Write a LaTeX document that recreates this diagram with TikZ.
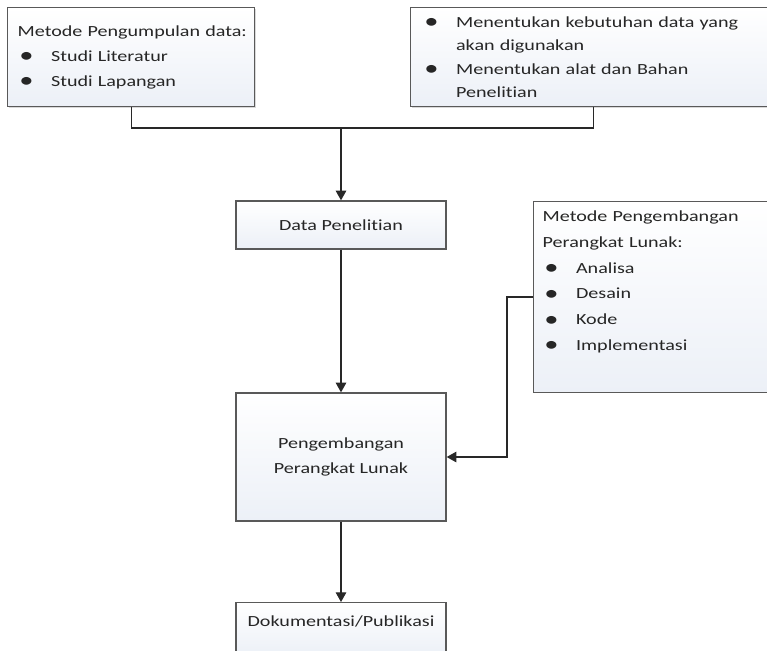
\documentclass[tikz,border=0pt]{standalone}
\usepackage{fontspec}
\setmainfont{Carlito}[FakeStretch=1.3,Ligatures=NoCommon]
\usetikzlibrary{arrows.meta,shadows}
\definecolor{isikotak}{RGB}{236,240,247}
\definecolor{garis}{RGB}{40,40,40}
\newcommand{\butir}{\makebox[19pt][l]{\hspace*{1pt}%
  \raisebox{-0.8pt}{\fontsize{12.5}{12}\selectfont\textbullet}}}

\begin{document}
\begin{tikzpicture}
[x=0.02cm, y=-0.02cm,
  boxdecorate/.style={shape=rectangle,draw=black!65,line width=0.8pt,
    top color=white,bottom color=isikotak,
    drop shadow={shadow xshift=0.6pt,shadow yshift=-0.6pt,opacity=0.3},
    text=black!85,font={\fontsize{8.8}{14.2}\selectfont}},
  listdecorate/.style={boxdecorate,anchor=north west,align=left},
  linedecorate/.style={-,line width=0.7pt,draw=garis},
  arrowdecorate/.style={linedecorate,-{Triangle[width=6pt,length=5.5pt]}}]
\clip (0,0) rectangle (767,650);
%% nodes or boxes
\node (metode) at (7,7) [listdecorate,text width=4.54cm,inner xsep=0.2cm,
  minimum height=1.98cm]
  {\mbox{Metode Pengumpulan data:}\\ \butir Studi Literatur\\ \butir Studi Lapangan};
\node (persiapan) at (410,7) [listdecorate,text width=6.84cm,inner xsep=0.24cm,
  minimum height=1.98cm,font={\fontsize{8.8}{13.4}\selectfont}]
  {\butir Menentukan kebutuhan data yang\\ \hspace*{19pt}akan digunakan\\
   \butir Menentukan alat dan Bahan\\ \hspace*{19pt}Penelitian};
\node (data) at (341,225) [boxdecorate,minimum width=4.2cm,minimum height=0.96cm]
  {Data Penelitian};
\node (metodepl) at (533,201) [listdecorate,text width=4.98cm,inner xsep=0.18cm,
  inner ysep=0.18cm,text depth=3.24cm,font={\fontsize{8.8}{14.7}\selectfont}]
  {Metode Pengembangan\\ Perangkat Lunak:\\ \butir Analisa\\ \butir Desain\\
   \butir Kode\\ \butir Implementasi};
\node (pengembangan) at (341,457) [boxdecorate,align=center,minimum width=4.2cm,
  minimum height=2.56cm] {Pengembangan\\ Perangkat Lunak};
\node (dokumentasi) at (341,602) [boxdecorate,anchor=north,minimum width=4.2cm,
  inner ysep=0pt,text height=0.48cm,text depth=0.58cm] {Dokumentasi/Publikasi};
%% edges or lines
\coordinate (temu) at (341,128);
\draw[linedecorate] (metode.south) |- (temu) -| (persiapan.south);
\draw[arrowdecorate] (temu) -- (data.north);
\draw[arrowdecorate] (data.south) -- (pengembangan.north);
\draw[arrowdecorate] (pengembangan.south) -- (dokumentasi.north);
\draw[arrowdecorate] (metodepl.west) -- ++(-26,0) |- (pengembangan.east);
\end{tikzpicture}
\end{document}
